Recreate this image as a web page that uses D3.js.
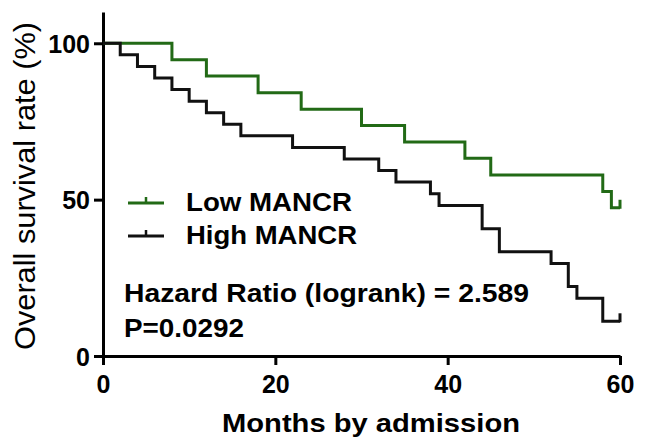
<!DOCTYPE html>
<html>
<head>
<meta charset="utf-8">
<script src="https://cdn.jsdelivr.net/npm/d3@7"></script>
<style>
  html, body { margin: 0; padding: 0; background: #fff; }
  svg { display: block; }
  text { font-family: "Liberation Sans", Arial, Helvetica, sans-serif; fill: #000; }
</style>
</head>
<body>
<svg id="chart" width="646" height="447"></svg>
<script>
// ---- data ----
const lowTimes  = [0, 8, 12, 18, 23, 30, 35, 42, 45, 58, 59, 60];
const lowSurv   = [100, 94.7, 89.5, 84.2, 78.9, 73.7, 68.4, 63.2, 57.9, 52.6, 47.4, 47.4];
const highTimes = [0, 2, 4, 6, 8, 10, 12, 14, 16, 22, 28, 32, 34, 38, 39, 44, 46, 52, 54, 55, 58, 60];
const highSurv  = [100, 96.3, 92.6, 88.9, 85.2, 81.5, 77.8, 74.1, 70.4, 66.7, 63.0, 59.3, 55.6, 51.9, 48.1, 40.7, 33.3, 29.6, 22.2, 18.5, 11.1, 11.1];
const xTicks = [0, 20, 40, 60];
const yTicks = [0, 50, 100];
const seriesNames = ["Low MANCR", "High MANCR"];
const seriesColors = ["#226a16", "#111111"];
const xTitle = "Months by admission";
const yTitle = "Overall survival rate (%)";
const hrText = "Hazard Ratio (logrank) = 2.589";
const pText = "P=0.0292";

// ---- layout ----
const svg = d3.select("#chart");
const x = d3.scaleLinear().domain([0, 60]).range([103, 620]);
const y = d3.scaleLinear().domain([0, 110]).range([356, 12]);

// axes
const yAxis = d3.axisLeft(y).tickValues(yTicks).tickSize(9).tickSizeOuter(0).tickPadding(4);
const xAxis = d3.axisBottom(x).tickValues(xTicks).tickSize(9).tickSizeOuter(0).tickPadding(10);

const gy = svg.append("g").attr("transform", `translate(${x(0)},0)`).call(yAxis);
const gx = svg.append("g").attr("transform", `translate(0,${y(0)})`).call(xAxis);
[gx, gy].forEach(g => {
  g.select(".domain").attr("stroke", "#000").attr("stroke-width", 3);
  g.selectAll(".tick line").attr("stroke", "#000").attr("stroke-width", 3);
  g.selectAll(".tick text")
    .attr("fill", "#000")
    .style("font-family", '"Liberation Sans", Arial, sans-serif')
    .style("font-weight", "bold")
    .style("font-size", "25px");
});
gy.selectAll(".tick text").attr("dy", "0.36em");

// curves
const line = d3.line().x(d => x(d[0])).y(d => y(d[1])).curve(d3.curveStepAfter);
const series = [
  { t: lowTimes, s: lowSurv, color: seriesColors[0] },
  { t: highTimes, s: highSurv, color: seriesColors[1] }
];
series.forEach(sr => {
  const pts = sr.t.map((t, i) => [t, sr.s[i]]);
  svg.append("path").datum(pts)
    .attr("fill", "none").attr("stroke", sr.color)
    .attr("stroke-width", 3).attr("stroke-linejoin", "miter")
    .attr("d", line);
  // censor tick at end
  const last = pts[pts.length - 1];
  svg.append("line")
    .attr("x1", x(last[0])).attr("x2", x(last[0]))
    .attr("y1", y(last[1]) + 1).attr("y2", y(last[1]) - 8)
    .attr("stroke", sr.color).attr("stroke-width", 3);
});

// legend
const legY = [203, 236];
seriesNames.forEach((name, i) => {
  svg.append("line").attr("x1", 128).attr("x2", 164).attr("y1", legY[i]).attr("y2", legY[i])
    .attr("stroke", seriesColors[i]).attr("stroke-width", 3);
  svg.append("line").attr("x1", 146).attr("x2", 146).attr("y1", legY[i]).attr("y2", legY[i] - 6)
    .attr("stroke", seriesColors[i]).attr("stroke-width", 2.5);
  svg.append("text").attr("x", 186).attr("y", legY[i] + 8)
    .style("font-size", "25px").style("font-weight", "bold")
    .attr("textLength", i === 0 ? 166 : 171).attr("lengthAdjust", "spacingAndGlyphs")
    .text(name);
});

// stats text
svg.append("text").attr("x", 124).attr("y", 302)
  .style("font-size", "26px").style("font-weight", "bold")
  .attr("textLength", 405).attr("lengthAdjust", "spacingAndGlyphs")
  .text(hrText);
svg.append("text").attr("x", 124).attr("y", 337)
  .style("font-size", "26px").style("font-weight", "bold")
  .attr("textLength", 120).attr("lengthAdjust", "spacingAndGlyphs")
  .text(pText);

// axis titles
svg.append("text").attr("x", 371).attr("y", 432)
  .attr("text-anchor", "middle")
  .style("font-size", "26.5px").style("font-weight", "bold")
  .attr("textLength", 298).attr("lengthAdjust", "spacingAndGlyphs")
  .text(xTitle);
svg.append("text")
  .attr("transform", "translate(35,186) rotate(-90)")
  .attr("text-anchor", "middle")
  .style("font-size", "29px")
  .attr("textLength", 328).attr("lengthAdjust", "spacingAndGlyphs")
  .text(yTitle);
</script>
</body>
</html>
